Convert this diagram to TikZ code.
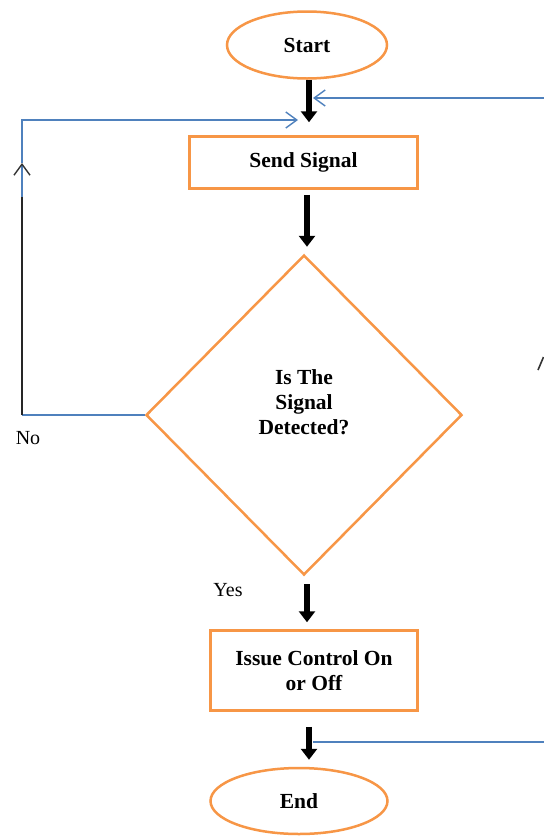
\documentclass[tikz,border=0pt]{standalone}
\usepackage{fontspec}
\setmainfont{Liberation Serif}
\usetikzlibrary{shapes.geometric,arrows.meta,calc}
\definecolor{borange}{HTML}{F79646}
\definecolor{bblue}{HTML}{4F81BD}
\begin{document}
\begin{tikzpicture}[x=1pt,y=-1pt,
  lbl/.style={font=\fontsize{21.5}{25}\selectfont\bfseries},
  term/.style={ellipse,draw=borange,line width=2.5pt,inner sep=0pt,lbl},
  proc/.style={rectangle,draw=borange,line width=2.5pt,inner sep=0pt,align=center,lbl},
  dec/.style={diamond,draw=borange,line width=2.5pt,inner sep=0pt,lbl},
  bigarrow/.style={line width=5.5pt,-{Triangle[width=16pt,length=11pt]}},
  bline/.style={draw=bblue,line width=1.4pt},
  barb/.style={-{Straight Barb[length=11pt,width=16pt,line width=1.4pt]}},
  small/.style={font=\fontsize{20}{24}\selectfont}]
\useasboundingbox (0,0) rectangle (544,839);
\fill[white] (0,0) rectangle (544,839);

\node[term,minimum width=160pt,minimum height=67pt] (start) at (307,45) {Start};
\node[proc,minimum width=228pt,minimum height=52pt] (send) at (303.5,162.5) {Send Signal};
\node[dec,minimum width=316pt,minimum height=320pt] (dec) at (304,415)
  {\raisebox{5pt}[0pt][0pt]{\begin{tabular}{@{}c@{}}Is The\\Signal\\Detected?\end{tabular}}};
\node[proc,minimum width=207pt,minimum height=80pt] (issue) at (314,670.5) {Issue Control On\\or Off};
\node[term,minimum width=177pt,minimum height=66pt] (end) at (299,801) {End};

\node[small] (no) at (28,438) {No};
\node[small] (yes) at (228,590) {Yes};

% black flow arrows
\draw[bigarrow] ($(start.south)+(2,0)$) -- ($(send.north)+(5.5,-13)$);
\draw[bigarrow] ($(send.south)+(3.5,5)$) -- ($(dec.north)+(3,-7)$);
\draw[bigarrow] ($(dec.south)+(3,8)$) -- ($(issue.north)+(-7,-7)$);
\draw[bigarrow] ($(issue.south)+(-5,15)$) -- ($(end.north)+(10,-7)$);

% blue connectors
\coordinate (rin) at (544,98);
\coordinate (j1) at (313,98);
\coordinate (lk) at (22,197);
\coordinate (lc) at (dec.west -| lk);
\coordinate (lm) at (22,163);
\coordinate (lt) at (22,120);
\coordinate (j2) at (298,120);
\coordinate (j3) at (313,742);
\coordinate (rout) at (544,742);
\coordinate (ra) at (538,370);
\coordinate (rb) at (543.5,357);

\draw[bline,barb] (rin) -- (j1);
\draw[bline] (dec.west) -- (lc);
\draw[line width=1.4pt,black!85] (lc) -- (lk);
\draw[bline,-{Straight Barb[length=11pt,width=16pt,line width=1.4pt,color=black!80]}] (lk) -- (lm);
\draw[bline,barb] (lm) -- (lt) -- (j2);
\draw[bline] (j3) -- (rout);
\draw[line width=1.6pt,black!80] (ra) -- (rb);
\end{tikzpicture}
\end{document}
